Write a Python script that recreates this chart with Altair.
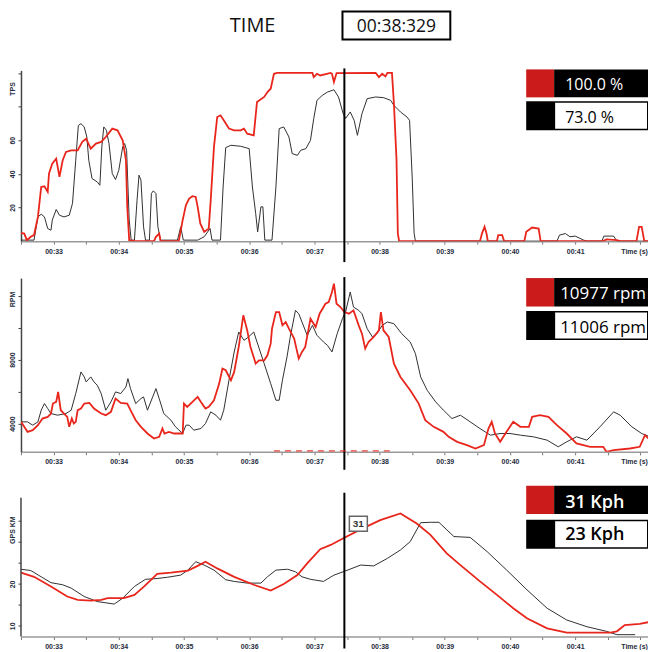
import altair as alt
import pandas as pd

# ---------------- data ----------------
T_START, T_END = 32.5, 42.117
CURSOR_T = 37.46
TIME_LABEL = "00:38:329"

x_ticks = [32.5, 33.0, 33.5, 34.0, 34.5, 35.0, 35.5, 36.0, 36.5, 37.0,
           37.5, 38.0, 38.5, 39.0, 39.5, 40.0, 40.5, 41.0, 41.5, 42.0]

# Throttle (TPS, %)
tps_red_t = [32.50, 32.55, 32.59, 32.65, 32.70, 32.76, 32.81, 32.86, 32.91, 32.93,
             32.98, 33.04, 33.09, 33.14, 33.19, 33.27, 33.37, 33.44, 33.50, 33.57,
             33.65, 33.73, 33.80, 33.90, 33.98, 34.06, 34.11, 34.13, 34.16, 34.24,
             34.54, 34.57, 34.62, 34.64, 34.92, 34.98, 35.03, 35.08, 35.13, 35.18,
             35.21, 35.25, 35.31, 35.38, 35.41, 35.46, 35.51, 35.56, 35.61, 35.69,
             35.77, 35.87, 35.92, 35.97, 36.07, 36.12, 36.23, 36.28, 36.33, 36.38,
             36.43, 36.97, 36.99, 37.04, 37.09, 37.25, 37.27, 37.30, 37.34, 37.94,
             37.99, 38.04, 38.09, 38.12, 38.19, 38.22, 38.26, 38.28, 38.30, 39.54,
             39.57, 39.61, 39.64, 39.66, 39.80, 39.82, 39.88, 39.91, 40.22, 40.25,
             40.34, 40.44, 40.47, 41.43, 41.48, 41.64, 41.69, 41.94, 41.98, 42.02,
             42.06, 42.24]
tps_red_v = [4.9, 4.5, 0.6, 2.6, 3.6, 14.4, 32.2, 32.6, 29.3, 40.2,
             46.1, 49.1, 38.2, 48.1, 53.0, 54.0, 54.0, 59.0, 60.9, 55.0,
             58.0, 59.0, 61.9, 66.9, 65.9, 59.9, 48.1, 20.4, 0.6, 0,
             0, 2.6, 4.5, 0, 0, 12.5, 21.4, 25.3, 26.7, 26.3,
             20.4, 10.5, 5.5, 7.5, 24.3, 56.0, 73.8, 74.8, 71.8, 66.9,
             65.9, 65.9, 66.9, 63.9, 62.9, 82.7, 85.7, 88.6, 90.6, 99.5,
             100, 100, 97.5, 99.5, 98.5, 100, 99.5, 94.6, 99.9, 100,
             97.5, 99.5, 97.9, 100, 100, 81.8, 48.1, 4.5, 0, 0,
             4.5, 8.5, 4.5, 0, 0, 3.6, 3.6, 0, 0, 5.5,
             8.1, 7.5, 0, 0, 1.0, 0.6, 0, 0, 8.5, 8.5,
             0, 0]
tps_blk_t = [32.50, 32.70, 32.76, 32.81, 32.86, 32.91, 32.96, 32.98, 33.04, 33.09,
             33.16, 33.24, 33.29, 33.34, 33.38, 33.42, 33.47, 33.51, 33.54, 33.59,
             33.67, 33.71, 33.74, 33.77, 33.81, 33.85, 33.90, 33.95, 34.00, 34.06,
             34.09, 34.12, 34.16, 34.19, 34.24, 34.28, 34.31, 34.34, 34.38, 34.41,
             34.47, 34.50, 34.53, 34.57, 34.60, 34.64, 34.90, 34.95, 34.99, 35.21,
             35.31, 35.40, 35.43, 35.56, 35.60, 35.64, 35.72, 35.87, 36.00, 36.05,
             36.10, 36.13, 36.18, 36.21, 36.24, 36.35, 36.41, 36.46, 36.53, 36.61,
             36.66, 36.74, 36.79, 36.87, 36.94, 36.99, 37.04, 37.12, 37.20, 37.30,
             37.37, 37.44, 37.48, 37.55, 37.61, 37.66, 37.73, 37.81, 37.94, 38.06,
             38.17, 38.22, 38.32, 38.42, 38.46, 38.50, 38.53, 38.55, 40.72, 40.76,
             40.85, 40.92, 41.00, 41.13, 41.18, 41.41, 41.44, 41.59, 41.64, 42.24]
tps_blk_v = [0.6, 0.6, 14.4, 16.0, 14.4, 7.5, 6.5, 12.5, 18.8, 15.4,
             14.4, 15.4, 22.4, 48.1, 68.8, 69.8, 67.9, 61.9, 48.1, 37.2,
             35.2, 33.2, 56.0, 67.9, 65.9, 58.0, 40.2, 36.6, 42.1, 56.0,
             58.0, 54.0, 12.5, 0.6, 0.6, 24.3, 39.2, 36.2, 8.5, 0.6,
             0.6, 28.3, 29.9, 28.3, 8.5, 0.6, 0.6, 8.5, 0.6, 0.6,
             2.6, 7.5, 0.6, 0.6, 32.2, 55.6, 57.0, 56.4, 55.0, 32.2,
             16.4, 5.5, 20.4, 20.4, 0.6, 0.6, 32.2, 66.9, 67.9, 61.9,
             52.0, 51.0, 54.0, 55.0, 59.9, 72.8, 83.7, 86.6, 88.6, 90.0,
             85.7, 76.0, 73.0, 76.8, 71.8, 62.9, 75.8, 84.7, 85.7, 85.3,
             83.7, 80.7, 76.8, 73.8, 71.8, 38.2, 4.5, 0, 0, 3.6,
             4.5, 2.6, 3.0, 0.6, 0, 0, 3.0, 3.0, 0, 0]

# Engine speed (RPM)
rpm_red_t = [32.50, 32.55, 32.60, 32.68, 32.76, 32.83, 32.91, 32.96, 32.99, 33.04,
             33.07, 33.11, 33.16, 33.21, 33.24, 33.28, 33.31, 33.34, 33.37, 33.42,
             33.47, 33.55, 33.62, 33.73, 33.80, 33.88, 33.95, 34.03, 34.13, 34.18,
             34.26, 34.34, 34.44, 34.54, 34.62, 34.67, 34.70, 34.77, 34.85, 34.98,
             35.00, 35.05, 35.13, 35.21, 35.26, 35.33, 35.38, 35.46, 35.54, 35.59,
             35.64, 35.72, 35.77, 35.84, 35.91, 35.97, 36.02, 36.10, 36.15, 36.23,
             36.28, 36.33, 36.35, 36.41, 36.46, 36.51, 36.56, 36.61, 36.69, 36.76,
             36.81, 36.86, 36.94, 37.02, 37.08, 37.17, 37.22, 37.27, 37.30, 37.34,
             37.40, 37.46, 37.53, 37.60, 37.68, 37.73, 37.78, 37.83, 37.91, 37.99,
             38.02, 38.06, 38.14, 38.22, 38.32, 38.47, 38.60, 38.70, 38.83, 38.98,
             39.06, 39.19, 39.34, 39.47, 39.60, 39.67, 39.72, 39.77, 39.85, 39.93,
             40.05, 40.16, 40.29, 40.34, 40.46, 40.59, 40.72, 40.87, 41.02, 41.23,
             41.43, 41.48, 41.59, 41.84, 41.99, 42.07, 42.15, 42.24]
rpm_red_v = [4104, 3792, 3479, 3583, 3896, 4312, 4417, 4625, 5250, 5354,
             5979, 4833, 4625, 4417, 3792, 4312, 4000, 4104, 4833, 4937,
             5250, 5292, 4937, 4625, 4521, 4729, 5562, 5292, 5250, 4833,
             4208, 3792, 3375, 3062, 3167, 3687, 3375, 3479, 3375, 3375,
             5250, 5042, 5354, 5667, 5354, 4937, 5042, 5458, 6500, 7437,
             7333, 6708, 7229, 8792, 10771, 9833, 8792, 7750, 7958, 7958,
             8271, 9000, 9937, 10979, 10979, 10146, 10354, 9937, 9312, 8062,
             8479, 8792, 10562, 10042, 10875, 11500, 11604, 12229, 12750, 11500,
             11292, 10977, 10875, 11083, 10146, 9625, 8687, 9104, 9417, 9833,
             10979, 9833, 9417, 7750, 6917, 6083, 5250, 4208, 3792, 3479,
             3167, 2854, 2646, 2437, 2646, 3687, 4104, 3375, 2854, 3375,
             4104, 3792, 3792, 4417, 4521, 4417, 3896, 3375, 2750, 2542,
             2542, 2229, 2333, 2437, 2542, 3271, 2958, 2750]
rpm_blk_t = [32.50, 32.60, 32.68, 32.76, 32.81, 32.86, 32.91, 32.96, 33.06, 33.19,
             33.27, 33.34, 33.42, 33.47, 33.50, 33.57, 33.62, 33.67, 33.73, 33.80,
             33.88, 33.95, 34.03, 34.11, 34.14, 34.18, 34.26, 34.34, 34.38, 34.44,
             34.52, 34.57, 34.62, 34.69, 34.80, 34.87, 34.98, 35.03, 35.08, 35.15,
             35.26, 35.33, 35.41, 35.49, 35.56, 35.61, 35.69, 35.77, 35.84, 35.92,
             35.99, 36.07, 36.12, 36.23, 36.33, 36.41, 36.46, 36.51, 36.58, 36.63,
             36.71, 36.76, 36.81, 36.89, 36.97, 37.04, 37.14, 37.20, 37.27, 37.35,
             37.43, 37.48, 37.55, 37.60, 37.68, 37.73, 37.81, 37.89, 37.96, 38.04,
             38.12, 38.22, 38.34, 38.47, 38.55, 38.63, 38.73, 38.86, 38.98, 39.11,
             39.24, 39.39, 39.54, 39.70, 39.85, 40.00, 40.16, 40.36, 40.57, 40.74,
             40.87, 41.02, 41.18, 41.38, 41.59, 41.69, 41.87, 42.02, 42.15, 42.24]
rpm_blk_v = [4104, 4104, 3896, 4104, 4833, 5250, 4937, 4625, 4521, 4625,
             4833, 5875, 7229, 6917, 6604, 6917, 6604, 6396, 5875, 4833,
             5354, 5979, 5875, 6292, 6812, 6187, 5250, 5562, 5667, 4833,
             5667, 6187, 5562, 4625, 4208, 3792, 3375, 3896, 3896, 3583,
             3687, 4000, 4729, 4521, 4208, 4833, 6708, 8479, 9729, 9208,
             9417, 9729, 9104, 7750, 6500, 5458, 5458, 6708, 8167, 9417,
             11083, 10875, 10354, 9521, 10146, 9521, 9104, 8896, 8479, 9625,
             10562, 11006, 12229, 11292, 11083, 10875, 9937, 9417, 9625, 10146,
             10354, 10250, 9625, 9104, 8375, 6917, 6083, 5354, 4833, 4312,
             4521, 4104, 3687, 3271, 3375, 3375, 3271, 3167, 2958, 2542,
             2854, 3167, 2958, 3792, 4729, 4521, 3792, 3375, 3167, 3062]
rpm_floor_t = [36.38, 38.18]

# Ground speed (km/h)
spd_red_t = [32.50, 32.70, 32.96, 33.21, 33.37, 33.57, 33.73, 33.83, 34.08, 34.24,
             34.39, 34.59, 34.80, 35.06, 35.21, 35.33, 35.51, 35.77, 36.07, 36.33,
             36.53, 36.74, 36.89, 37.09, 37.25, 37.46, 37.71, 38.01, 38.32, 38.57,
             38.78, 39.03, 39.24, 39.54, 39.80, 40.05, 40.26, 40.57, 40.87, 41.18,
             41.54, 41.64, 41.76, 41.99, 42.24]
spd_red_v = [22.7, 21.7, 19.4, 17.0, 16.2, 16.0, 16.2, 16.6, 16.6, 17.4,
             19.4, 22.4, 22.7, 23.2, 24.3, 25.3, 23.7, 21.7, 19.8, 18.4,
             20.0, 22.1, 24.9, 28.3, 29.3, 31.0, 33.0, 35.2, 36.8, 34.4,
             31.7, 27.3, 24.5, 20.6, 17.4, 14.2, 11.8, 9.4, 8.4, 8.4,
             8.4, 8.7, 10.2, 10.5, 11.2]
spd_blk_t = [32.50, 32.65, 32.81, 32.96, 33.14, 33.27, 33.47, 33.67, 33.93, 34.06,
             34.24, 34.41, 34.59, 34.75, 34.95, 35.06, 35.18, 35.31, 35.46, 35.64,
             35.77, 35.97, 36.18, 36.28, 36.41, 36.59, 36.71, 36.81, 36.94, 37.14,
             37.30, 37.46, 37.71, 37.91, 38.12, 38.32, 38.47, 38.63, 38.78, 38.91,
             39.14, 39.39, 39.65, 39.95, 40.26, 40.57, 40.87, 41.18, 41.48, 41.64,
             41.92]
spd_blk_v = [23.5, 23.2, 21.7, 20.3, 19.8, 19.0, 17.0, 15.8, 15.2, 16.6,
             19.4, 21.1, 21.3, 21.6, 22.1, 23.3, 25.3, 24.5, 23.3, 21.0,
             20.6, 20.2, 20.2, 21.7, 23.3, 23.5, 22.9, 21.7, 21.1, 20.6,
             22.1, 23.0, 24.5, 24.3, 26.1, 28.1, 30.1, 34.6, 34.7, 34.7,
             31.3, 31.1, 27.7, 23.3, 18.6, 14.2, 11.4, 9.8, 8.7, 7.9,
             7.9]

legend_tps = ["100.0 %", "73.0 %"]
legend_rpm = ["10977 rpm", "11006 rpm"]
legend_spd = ["31 Kph", "23 Kph"]
cursor_speed_label = "31"
cursor_speed_value = 31.0

# ---------------- style ----------------
RED = "#e8261c"
RED_BOX = "#cc1b1b"
BLACK_LINE = "#303030"
AXIS_TXT = "#1f2d40"
W = 628
ONE = pd.DataFrame({"a": [0]})
LX = 506  # legend left edge inside plot

x_label_expr = ("datum.value == 42 ? 'Time (s)' : "
                "(datum.value % 1 == 0 ? '00:' + format(datum.value, '02d') : '')")


def x_enc():
    return alt.X(
        "t:Q",
        scale=alt.Scale(domain=[T_START, T_END], nice=False, zero=False),
        axis=alt.Axis(values=x_ticks, labelExpr=x_label_expr, grid=False,
                      domainColor="#9a9a9a", domainWidth=1.5, tickColor="#777",
                      tickSize=3, labelFont="Liberation Sans", labelFontSize=7,
                      labelFontWeight="bold", labelColor=AXIS_TXT, labelPadding=3,
                      labelAlign={"expr": "datum.value == 42 ? 'right' : 'center'"},
                      labelOffset={"expr": "datum.value == 42 ? 7 : 0"},
                      labelFlush=False, labelOverlap=False),
        title=None,
    )


def y_enc(dom, ticks, shown, title, title_y, domain_line=True):
    expr = "indexof(%s, datum.value) >= 0 ? format(datum.value, 'd') : ''" % str(shown)
    return alt.Y(
        "v:Q",
        scale=alt.Scale(domain=dom, nice=False, zero=False),
        axis=alt.Axis(values=ticks, labelExpr=expr, grid=False, domain=domain_line,
                      domainColor="#444", domainWidth=1.5, tickColor="#444",
                      tickSize=3, labelFont="Liberation Sans", labelFontSize=7,
                      labelFontWeight="bold", labelColor=AXIS_TXT, labelPadding=2,
                      labelAngle=270, labelAlign="center", labelBaseline="bottom",
                      titleAngle=270, titleX=-8.5, titleY=title_y, titleAlign="center",
                      titleBaseline="middle", titleFont="Liberation Sans",
                      titleFontSize=7, titleFontWeight="bold", titleColor=AXIS_TXT,
                      labelOverlap=False),
        title=title,
    )


def rect(x1, x2, y1, y2, fill, stroke=None):
    kw = dict(fill=fill)
    if stroke:
        kw.update(stroke=stroke, strokeWidth=2)
    return alt.Chart(ONE).mark_rect(**kw).encode(
        x=alt.value(x1), x2=alt.value(x2), y=alt.value(y1), y2=alt.value(y2))


def label(txt, x, y, size, color, weight="normal", align="left", font="Open Sans", clip=False):
    return alt.Chart(pd.DataFrame({"s": [txt]})).mark_text(
        align=align, baseline="alphabetic", font=font, fontSize=size,
        fontWeight=weight, color=color, clip=clip).encode(
        x=alt.value(x), y=alt.value(y), text="s:N")


def legend(texts, r1, r2, inner, base1, base2, tx, size, weight):
    return [
        rect(LX, LX + 28, r1[0], r1[1], RED_BOX),
        rect(LX + 28, W, r1[0], r1[1], "black"),
        rect(LX, W, r2[0], r2[1], "black"),
        rect(LX + 29, W - 1, inner[0], inner[1], "white"),
        label(texts[0], tx, base1, size, "white", weight, clip=True),
        label(texts[1], tx, base2, size, "black", weight, clip=True),
    ]


def panel(rt, rv, bt, bv, dom, h, ticks, shown, title, title_y, extra, cur, domain_line=True):
    xe = x_enc()
    ye = y_enc(dom, ticks, shown, title, title_y, domain_line)
    blk = alt.Chart(pd.DataFrame({"t": bt, "v": bv})).mark_line(
        color=BLACK_LINE, strokeWidth=1, clip=True).encode(x=xe, y=ye)
    red = alt.Chart(pd.DataFrame({"t": rt, "v": rv})).mark_line(
        color=RED, strokeWidth=1.8, clip=True).encode(x=xe, y=ye)
    cursor = alt.Chart(pd.DataFrame({"t": [CURSOR_T]})).mark_rule(
        color="black", strokeWidth=2).encode(x=xe, y=alt.value(cur[0]), y2=alt.value(cur[1]))
    layers = [blk, red, cursor] + [f(xe, ye) for f in extra]
    return alt.layer(*layers).properties(width=W, height=h)


def fixed(ch):
    return lambda xe, ye: ch


# header (placed above panel 1)
header = [
    fixed(label("TIME", 232, -38, 20, "#111", align="center")),
    fixed(rect(322, 430, -59, -31, "white", "black")),
    fixed(label(TIME_LABEL, 376, -38.5, 17.5, "#111", align="center")),
]

p1 = panel(tps_red_t, tps_red_v, tps_blk_t, tps_blk_v, [0, 101.5], 171,
           [20, 40, 60, 80, 100], [20, 40, 60], "TPS", 18,
           header + [fixed(c) for c in legend(legend_tps, (-1, 27), (31, 60), (32.5, 58.5),
                                              20, 52.5, LX + 39, 16, "normal")],
           (-2, 192))


def floor_layer(xe, ye):
    return alt.Chart(pd.DataFrame({"t": [rpm_floor_t[0]], "t2": [rpm_floor_t[1]]})).mark_rule(
        color=RED, strokeWidth=1.2, strokeDash=[6, 5], opacity=0.85).encode(
        x=xe, x2="t2:Q", y=alt.value(173))


p2 = panel(rpm_red_t, rpm_red_v, rpm_blk_t, rpm_blk_v, [2229, 13104], 174,
           [4000, 6000, 8000, 10000, 12000], [4000, 8000], "RPM", 21,
           [floor_layer] + [fixed(c) for c in legend(legend_rpm, (0, 28.5), (33, 62), (34.5, 60.5),
                                                     21.3, 55.3, LX + 34, 17, "normal")],
           (-1, 192))

cur_df = pd.DataFrame({"t": [CURSOR_T], "v": [cursor_speed_value], "s": [cursor_speed_label]})


def cur_box(xe, ye):
    return alt.Chart(cur_df).mark_point(
        shape="M-1.2,-1H1.2V1H-1.2Z", size=225, filled=True, fill="white", stroke="#666",
        strokeWidth=1.5, opacity=1, xOffset=14, yOffset=-14).encode(x=xe, y=ye)


def cur_txt(xe, ye):
    return alt.Chart(cur_df).mark_text(
        dx=14, dy=-14, font="Liberation Sans", fontSize=10, fontWeight="bold", color="#333",
        align="center", baseline="middle").encode(x=xe, y=ye, text="s:N")


# y-axis line of the speed panel starts a little below the panel's top edge
def spd_axis_line(xe, ye):
    return alt.Chart(ONE).mark_rule(color="#444", strokeWidth=1.5).encode(
        x=alt.value(0), y=alt.value(9), y2=alt.value(148))


p3 = panel(spd_red_t, spd_red_v, spd_blk_t, spd_blk_v, [7.46, 42.7], 148,
           [10, 15, 20, 25, 30, 35], [10, 20], "GPS KM", 41,
           [spd_axis_line, cur_box, cur_txt] +
           [fixed(c) for c in legend(legend_spd, (-3, 25.3), (31, 60), (32.5, 58.5),
                                     19.3, 51.7, LX + 39, 18, 600)],
           (4, 160), domain_line=False)

chart = alt.vconcat(p1, p2, p3, spacing=37, bounds="flush").properties(
    padding={"left": 0, "top": 2, "right": 0, "bottom": 0}
).configure_view(stroke=None)

chart.save("out.html", embed_options={"renderer": "svg", "actions": False})
